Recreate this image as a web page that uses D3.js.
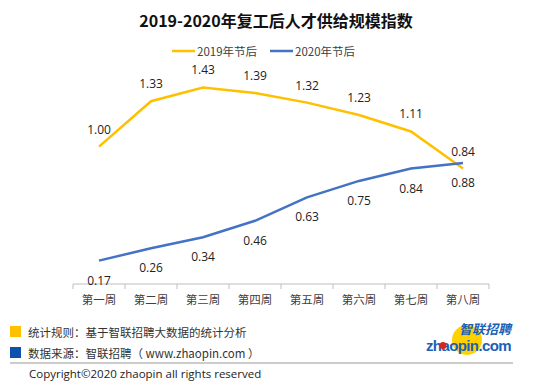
<!DOCTYPE html>
<html>
<head>
<meta charset="utf-8">
<script src="https://cdn.jsdelivr.net/npm/d3@7"></script>
<style>
  body { margin: 0; background: #fff; }
  text { font-family: "Noto Sans CJK SC", "Noto Sans", sans-serif; }
</style>
</head>
<body>
<div id="chart"></div>
<script>
// Data
const weeks = ["第一周", "第二周", "第三周", "第四周", "第五周", "第六周", "第七周", "第八周"];
const values2019 = [1.00, 1.33, 1.43, 1.39, 1.32, 1.23, 1.11, 0.84];
const values2020 = [0.17, 0.26, 0.34, 0.46, 0.63, 0.75, 0.84, 0.88];
const seriesNames = ["2019年节后", "2020年节后"];
const footNotes = ["统计规则：基于智联招聘大数据的统计分析", "数据来源：智联招聘（ www.zhaopin.com ）"];

const W = 550, H = 392;
const margin = {top: 60, right: 61, bottom: 108, left: 73},
      width = W - margin.left - margin.right,
      height = H - margin.top - margin.bottom;

const colors = ["#FFC000", "#4472C4"];

const svg = d3.select("#chart")
  .append("svg")
    .attr("width", W)
    .attr("height", H);

// Title
svg.append("text")
  .attr("x", 276)
  .attr("y", 27)
  .attr("text-anchor", "middle")
  .style("font-size", "16px")
  .style("font-weight", "bold")
  .style("fill", "#111")
  .text("2019-2020年复工后人才供给规模指数");

// Legend
const legend = svg.append("g");
[172, 270].forEach((lx, i) => {
  legend.append("line")
    .attr("x1", lx).attr("x2", lx + 23)
    .attr("y1", 51).attr("y2", 51)
    .attr("stroke", colors[i]).attr("stroke-width", 2.5);
  legend.append("text")
    .attr("x", lx + 25).attr("y", 55.5)
    .style("font-size", "11.5px").style("fill", "#404040")
    .text(seriesNames[i]);
});

const g = svg.append("g")
  .attr("transform", `translate(${margin.left},${margin.top})`);

const x = d3.scaleBand().domain(weeks).range([0, width]);
const y = d3.scaleLinear().domain([0, 1.63]).range([height, 0]);

// X axis
const xAxis = g.append("g").attr("transform", `translate(0,${height})`);
xAxis.append("line")
  .attr("x1", 0).attr("x2", width)
  .attr("stroke", "#bfbfbf");
xAxis.selectAll(".tk")
  .data(d3.range(weeks.length + 1))
  .join("line")
  .attr("x1", i => i * x.bandwidth()).attr("x2", i => i * x.bandwidth())
  .attr("y1", 0).attr("y2", 5)
  .attr("stroke", "#bfbfbf");
xAxis.selectAll(".lbl")
  .data(weeks)
  .join("text")
  .attr("x", d => x(d) + x.bandwidth() / 2)
  .attr("y", 20)
  .attr("text-anchor", "middle")
  .style("font-size", "11.5px")
  .style("fill", "#404040")
  .text(d => d);

const line = d3.line()
  .x((d, i) => x(weeks[i]) + x.bandwidth() / 2)
  .y(d => y(d));

[values2019, values2020].forEach((vals, s) => {
  g.append("path")
    .datum(vals)
    .attr("fill", "none")
    .attr("stroke", colors[s])
    .attr("stroke-width", 2.5)
    .attr("d", line);

  g.selectAll(".lab" + s)
    .data(vals)
    .join("text")
    .attr("x", (d, i) => x(weeks[i]) + x.bandwidth() / 2)
    .attr("y", d => y(d) + (s === 0 ? -13 : 24))
    .attr("text-anchor", "middle")
    .style("font-family", "'Open Sans', sans-serif")
    .style("font-size", "12px")
    .style("fill", "#222")
    .text(d => d3.format(".2f")(d));
});

// Footer notes
footNotes.forEach((t, i) => {
  svg.append("rect")
    .attr("x", 10).attr("y", 326 + i * 21)
    .attr("width", 11).attr("height", 11)
    .attr("fill", i === 0 ? "#FFC000" : "#0B52AD");
  svg.append("text")
    .attr("x", 28).attr("y", 336.5 + i * 21)
    .style("font-size", "11.5px")
    .style("fill", "#333")
    .text(t);
});

svg.append("line")
  .attr("x1", 10).attr("x2", 513)
  .attr("y1", 363).attr("y2", 363)
  .attr("stroke", "#999").attr("stroke-width", 1);

svg.append("text")
  .attr("x", 29).attr("y", 378)
  .style("font-family", "'Open Sans', sans-serif")
  .style("font-size", "11.5px")
  .style("fill", "#222")
  .text("Copyright©2020 zhaopin all rights reserved");

// Logo
const logo = svg.append("g");
logo.append("circle").attr("cx", 467).attr("cy", 340).attr("r", 15).attr("fill", "#FFD100");
logo.append("text")
  .attr("x", 511).attr("y", 334)
  .attr("text-anchor", "end")
  .style("font-size", "13px").style("font-weight", "bold").style("font-style", "italic")
  .style("fill", "#1B5FB6")
  .text("智联招聘");
logo.append("text")
  .attr("x", 511).attr("y", 351)
  .attr("text-anchor", "end")
  .style("font-family", "Arial, 'Liberation Sans', sans-serif")
  .style("font-size", "15px").style("font-weight", "bold")
  .style("fill", "#1B5FB6")
  .style("letter-spacing", "-0.6px")
  .text("zhaopin.com");
logo.append("circle").attr("cx", 443).attr("cy", 345.5).attr("r", 3.5).attr("fill", "#D7261E");
</script>
</body>
</html>
